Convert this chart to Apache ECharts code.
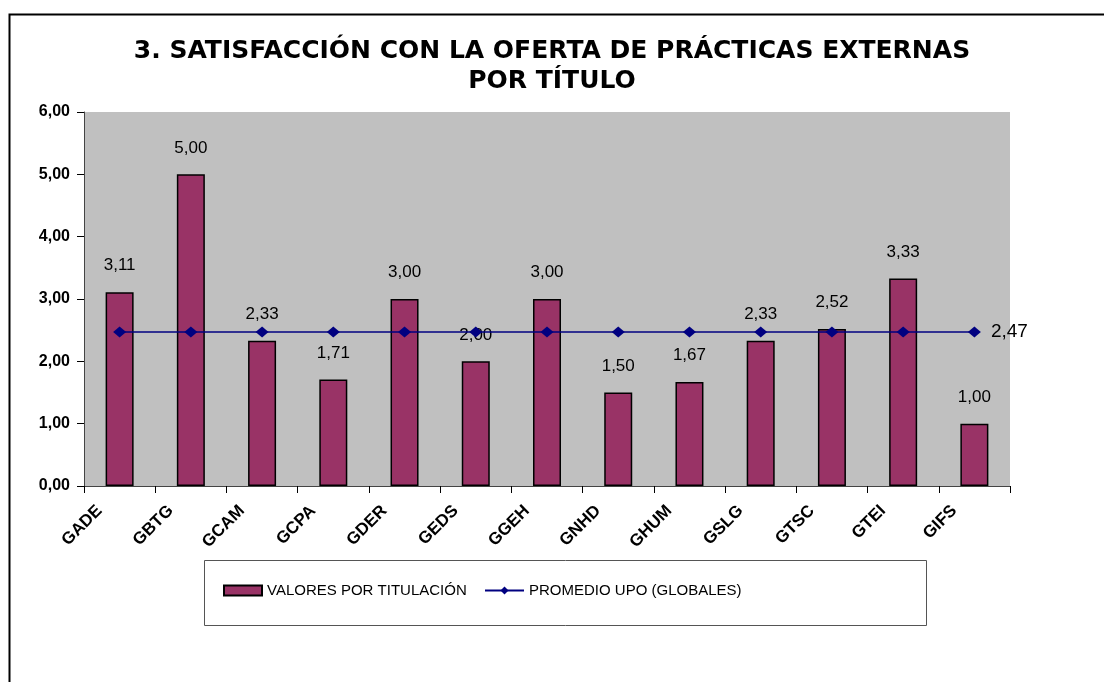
<!DOCTYPE html>
<html>
<head>
<meta charset="utf-8">
<script src="https://cdn.jsdelivr.net/npm/echarts@6/dist/echarts.min.js"></script>
<style>
  html, body { margin: 0; padding: 0; background: #fff; }
  #chart { width: 1104px; height: 682px; }
</style>
</head>
<body>
<div id="chart"></div>
<script>
// titulaciones
const categorias = ['GADE', 'GBTG', 'GCAM', 'GCPA', 'GDER', 'GEDS', 'GGEH', 'GNHD', 'GHUM', 'GSLG', 'GTSC', 'GTEI', 'GIFS'];
// valores por titulación
const valores = [3.11, 5.00, 2.33, 1.71, 3.00, 2.00, 3.00, 1.50, 1.67, 2.33, 2.52, 3.33, 1.00];
// promedio UPO (globales)
const promedio = [2.47, 2.47, 2.47, 2.47, 2.47, 2.47, 2.47, 2.47, 2.47, 2.47, 2.47, 2.47, 2.47];

const fmt = v => Number(v).toFixed(2).replace('.', ',');
const fuente = 'Arial, "Liberation Sans", sans-serif';
const leyendaTexto = { fontSize: 15, color: '#000', fontFamily: fuente };

const chart = echarts.init(document.getElementById('chart'));
const option = {
  animation: false,
  textStyle: { fontFamily: fuente },
  title: {
    text: '3. SATISFACCIÓN CON LA OFERTA DE PRÁCTICAS EXTERNAS\nPOR TÍTULO',
    left: 'center',
    top: 31,
    textStyle: { fontSize: 25, fontWeight: 'bold', color: '#000', lineHeight: 30, fontFamily: '"DejaVu Sans", sans-serif' }
  },
  graphic: [
    { type: 'rect', left: 7, top: 12, shape: { width: 1300, height: 900 },
      style: { fill: 'none', stroke: '#000', lineWidth: 2 }, silent: true },
    { type: 'rect', left: 202, top: 558, shape: { width: 722, height: 65 },
      style: { fill: 'none', stroke: '#555', lineWidth: 1 }, silent: true }
  ],
  legend: [
    {
      left: 223,
      top: 583,
      padding: 0,
      itemWidth: 38,
      itemHeight: 10,
      textStyle: leyendaTexto,
      data: [{ name: 'VALORES POR TITULACIÓN', icon: 'rect' }]
    },
    {
      left: 484,
      top: 583,
      padding: 0,
      itemWidth: 39,
      itemHeight: 10,
      textStyle: leyendaTexto,
      data: ['PROMEDIO UPO (GLOBALES)']
    }
  ],
  grid: {
    left: 84,
    right: 94,
    top: 112,
    bottom: 196,
    show: true,
    backgroundColor: '#C0C0C0',
    borderWidth: 0
  },
  xAxis: {
    type: 'category',
    data: categorias,
    boundaryGap: true,
    axisLine: { lineStyle: { color: '#444', width: 1 } },
    axisTick: { show: true, interval: 0, length: 7, lineStyle: { color: '#000' } },
    axisLabel: { interval: 0, rotate: 45, margin: 14, padding: [0, 20, 0, 0], verticalAlign: 'bottom', fontSize: 17, fontWeight: 'bold', color: '#000' }
  },
  yAxis: {
    type: 'value',
    min: 0,
    max: 6,
    interval: 1,
    splitLine: { show: false },
    axisLine: { show: true, lineStyle: { color: '#444', width: 1 } },
    axisTick: { show: true, length: 7, lineStyle: { color: '#000' } },
    axisLabel: { margin: 14, fontSize: 16, fontWeight: 'bold', color: '#000', formatter: v => fmt(v) }
  },
  series: [
    {
      name: 'VALORES POR TITULACIÓN',
      type: 'bar',
      barWidth: 28,
      data: valores,
      itemStyle: { color: '#993366', borderColor: '#000', borderWidth: 1.5 },
      label: { show: true, position: 'top', distance: 18, fontSize: 17, color: '#000', formatter: p => fmt(p.value) }
    },
    {
      name: 'PROMEDIO UPO (GLOBALES)',
      type: 'line',
      data: promedio,
      symbol: 'diamond',
      symbolSize: [13, 11],
      lineStyle: { color: '#000080', width: 1.5 },
      itemStyle: { color: '#000080' },
      label: {
        show: true,
        position: 'right',
        distance: 10,
        fontSize: 19,
        color: '#000',
        formatter: p => (p.dataIndex === promedio.length - 1 ? fmt(p.value) : '')
      }
    }
  ]
};
chart.setOption(option);
</script>
</body>
</html>
